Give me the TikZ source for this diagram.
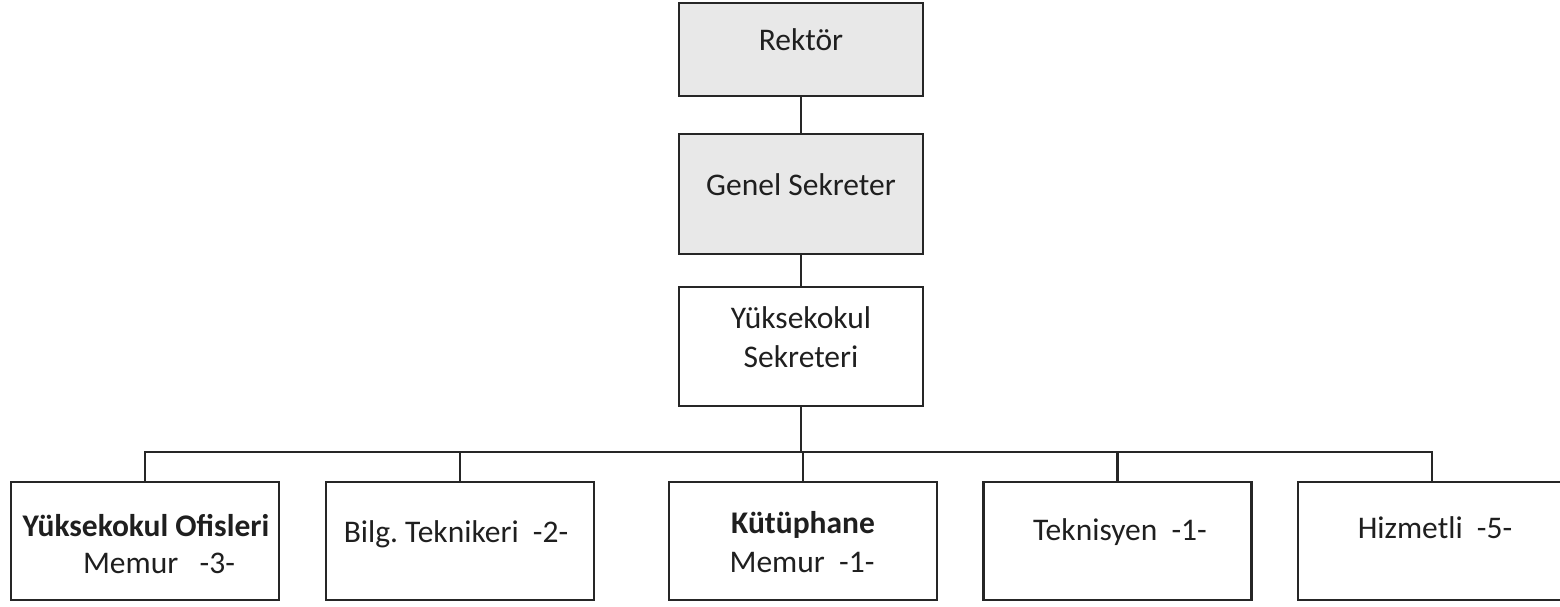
\documentclass[tikz,border=0pt]{standalone}
\usepackage{fontspec}
\setmainfont{Carlito}
\frenchspacing
\begin{document}
\begin{tikzpicture}[x=0.5pt,y=-0.5pt,
  box/.style={draw=black!85, line width=1.2pt, inner sep=0pt, minimum width=134pt, minimum height=59pt},
  topbox/.style={box, fill=black!9, minimum width=122pt},
  txt/.style={font=\fontsize{15.75}{19}\selectfont, text=black!88, inner sep=0pt, anchor=base},
  conn/.style={draw=black!85, line width=1.2pt}]
\useasboundingbox (0,0) rectangle (1560,606);

% upper chain
\node[topbox, minimum height=46.5pt] (rek) at (801,49.5) {};
\node[topbox, minimum height=60pt] (gen) at (801,194) {};
\node[box, minimum width=122pt, minimum height=59.5pt] (ys) at (801,346.5) {};

% lower row
\node[box] (b1) at (145,541) {};
\node[box] (b2) at (460,541) {};
\node[box] (b3) at (803,541) {};
\node[box] (b4) at (1117.5,541) {};
\node[box] (b5) at (1432,541) {};

% texts
\node[txt] (trek) at (801,50) {Rektör};
\node[txt] (tgen) at (801,195) {Genel Sekreter};
\node[txt] (tys1) at (801,328) {Yüksekokul};
\node[txt] (tys2) at (801,367) {Sekreteri};
\node[txt] (t1a) at (146,536) {\bfseries Yüksekokul Ofisleri};
\node[txt] (t1b) at (159,573) {Memur\ \ \ -3-};
\node[txt] (t2) at (456,542) {Bilg.\ Teknikeri\ \ -2-};
\node[txt] (t3a) at (803,533) {\bfseries Kütüphane};
\node[txt] (t3b) at (802,572) {Memur\ \ -1-};
\node[txt] (t4) at (1120,540) {Teknisyen\ \ -1-};
\node[txt] (t5) at (1435,538) {Hizmetli\ \ -5-};

% connectors
\coordinate (bus) at (801,452);
\draw[conn] (rek) -- (gen);
\draw[conn] (gen) -- (ys);
\draw[conn] (ys.south) -- (ys.south |- bus);
\draw[conn] (b1.north) -- (b1.north |- bus) -- (b5.north |- bus) -- (b5.north);
\draw[conn] (b2.north) -- (b2.north |- bus);
\draw[conn] (b3.north) -- (b3.north |- bus);
\draw[conn] (b4.north) -- (b4.north |- bus);
\end{tikzpicture}
\end{document}
